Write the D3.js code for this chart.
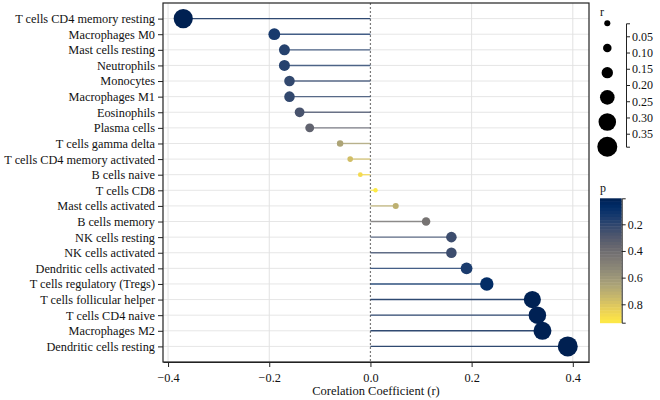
<!DOCTYPE html>
<html>
<head>
<meta charset="utf-8">
<script src="https://cdn.jsdelivr.net/npm/d3@7"></script>
<style>
  html, body { margin: 0; padding: 0; background: #fff; }
  svg { display: block; }
  text { font-family: "Liberation Serif", "Times New Roman", serif; fill: #111; }
</style>
</head>
<body>
<svg id="chart" width="660" height="400"></svg>
<script>
const categories = [
  "T cells CD4 memory resting", "Macrophages M0", "Mast cells resting", "Neutrophils",
  "Monocytes", "Macrophages M1", "Eosinophils", "Plasma cells", "T cells gamma delta",
  "T cells CD4 memory activated", "B cells naive", "T cells CD8", "Mast cells activated",
  "B cells memory", "NK cells resting", "NK cells activated", "Dendritic cells activated",
  "T cells regulatory (Tregs)", "T cells follicular helper", "T cells CD4 naive",
  "Macrophages M2", "Dendritic cells resting"
];
const rValues = [
  -0.37, -0.19, -0.17, -0.17, -0.16, -0.16, -0.14, -0.12, -0.06,
  -0.04, -0.02, 0.01, 0.05, 0.11, 0.16, 0.16, 0.19, 0.23, 0.32, 0.33, 0.34, 0.39
];
const pValues = [
  0.007, 0.14, 0.18, 0.18, 0.21, 0.21, 0.27, 0.35, 0.66,
  0.77, 0.88, 0.938, 0.71, 0.43, 0.24, 0.24, 0.15, 0.07, 0.012, 0.01, 0.009, 0.005
];
const xTicks = [-0.4, -0.2, 0.0, 0.2, 0.4];
const sizeLegendValues = [0.05, 0.11, 0.18, 0.26, 0.33, 0.39];
const sizeTicks = [0.05, 0.10, 0.15, 0.20, 0.25, 0.30, 0.35];
const pTicks = [0.2, 0.4, 0.6, 0.8];

const data = categories.map((c, i) => ({ name: c, r: rValues[i], p: pValues[i] }));
const svg = d3.select("#chart");

const L = 163, R = 589, T = 3, B = 362;
const x = d3.scaleLinear().domain([-0.41, 0.432]).range([L, R]);
const y = d3.scalePoint().domain(categories).range([T, B]).padding(1);
const absExtent = d3.extent(rValues.map(Math.abs));
const size = d3.scaleLinear().domain(absExtent).range([2.2, 10]);
const pExtent = d3.extent(pValues);
const color = d3.scaleSequential(d3.interpolateCividis).domain(pExtent);

// gridlines
const grid = svg.append("g");
grid.selectAll("line.h").data(categories).join("line")
  .attr("x1", L).attr("x2", R).attr("y1", d => y(d)).attr("y2", d => y(d))
  .attr("stroke", "#e6e6e6").attr("stroke-width", 1);
grid.selectAll("line.v").data(xTicks.filter(t => t !== 0)).join("line")
  .attr("x1", d => x(d)).attr("x2", d => x(d)).attr("y1", T).attr("y2", B)
  .attr("stroke", "#e2e2e2").attr("stroke-width", 1);

// zero line
svg.append("line")
  .attr("x1", x(0)).attr("x2", x(0)).attr("y1", T).attr("y2", B)
  .attr("stroke", "#7a7a7a").attr("stroke-width", 1.2).attr("stroke-dasharray", "2,2");

// stems
svg.append("g").selectAll("line").data(data).join("line")
  .attr("x1", x(0)).attr("x2", d => x(d.r))
  .attr("y1", d => y(d.name)).attr("y2", d => y(d.name))
  .attr("stroke", d => color(d.p)).attr("stroke-width", 1.4).attr("stroke-opacity", 0.8);

// dots
svg.append("g").selectAll("circle").data(data).join("circle")
  .attr("cx", d => x(d.r)).attr("cy", d => y(d.name))
  .attr("r", d => size(Math.abs(d.r)))
  .attr("fill", d => color(d.p));

// frame
svg.append("rect").attr("x", L).attr("y", T).attr("width", R - L).attr("height", B - T)
  .attr("fill", "none").attr("stroke", "#222").attr("stroke-width", 1.2);

// axes
const xAxis = svg.append("g").attr("transform", `translate(0,${B})`)
  .call(d3.axisBottom(x).tickValues(xTicks).tickFormat(d3.format(".1f")).tickSize(5).tickSizeOuter(0));
xAxis.select(".domain").attr("stroke", "#222");
xAxis.selectAll("text").attr("font-size", 12.3).attr("dy", "0.95em")
  .text(d => d3.format(".1f")(d).replace("-", "\u2212"));

const yAxis = svg.append("g").attr("transform", `translate(${L},0)`)
  .call(d3.axisLeft(y).tickSize(5).tickSizeOuter(0));
yAxis.select(".domain").remove();
yAxis.selectAll("text").attr("font-size", 12.3).attr("x", -8);

svg.selectAll(".tick line").attr("stroke", "#222");
svg.selectAll(".tick text").attr("fill", "#111");

svg.append("text").attr("x", (L + R) / 2).attr("y", 395)
  .attr("text-anchor", "middle").attr("font-size", 12.5).text("Corelation Coefficient (r)");

// size legend
svg.append("text").attr("x", 600).attr("y", 16).attr("font-size", 12).text("r");
const ly = d3.scalePoint().domain(sizeLegendValues).range([23.3, 146.7]);
svg.append("g").selectAll("circle").data(sizeLegendValues).join("circle")
  .attr("cx", 607.3).attr("cy", d => ly(d)).attr("r", d => size(d)).attr("fill", "#000");
const sAxisScale = d3.scaleLinear().domain(absExtent).range([23.3, 146.7]);
const sAxis = svg.append("g").attr("transform", "translate(626,0)")
  .call(d3.axisRight(sAxisScale).tickValues(sizeTicks).tickFormat(d3.format(".2f")).tickSize(4).tickSizeOuter(4));
sAxis.selectAll("text").attr("font-size", 12).attr("x", 6);
sAxis.selectAll("path, line").attr("stroke", "#222");

// color legend
svg.append("text").attr("x", 600).attr("y", 192).attr("font-size", 12).text("p");
const cy = d3.scaleLinear().domain(pExtent).range([198.3, 322.7]);
const nBands = 40;
const bandVals = d3.range(nBands).map(i => pExtent[0] + (pExtent[1] - pExtent[0]) * i / nBands);
const bandH = (cy(pExtent[1]) - cy(pExtent[0])) / nBands;
svg.append("g").selectAll("rect").data(bandVals).join("rect")
  .attr("x", 600).attr("width", 21.7)
  .attr("y", d => cy(d)).attr("height", bandH + 0.5)
  .attr("fill", d => color(d + (pExtent[1] - pExtent[0]) / nBands / 2));
const cAxis = svg.append("g").attr("transform", "translate(621.7,0)")
  .call(d3.axisRight(cy).tickValues(pTicks).tickFormat(d3.format(".1f")).tickSize(4).tickSizeOuter(4));
cAxis.selectAll("text").attr("font-size", 12).attr("x", 6);
cAxis.selectAll("path, line").attr("stroke", "#222");
svg.selectAll("text").style("font-family", "'Liberation Serif', 'Times New Roman', serif");
</script>
</body>
</html>
